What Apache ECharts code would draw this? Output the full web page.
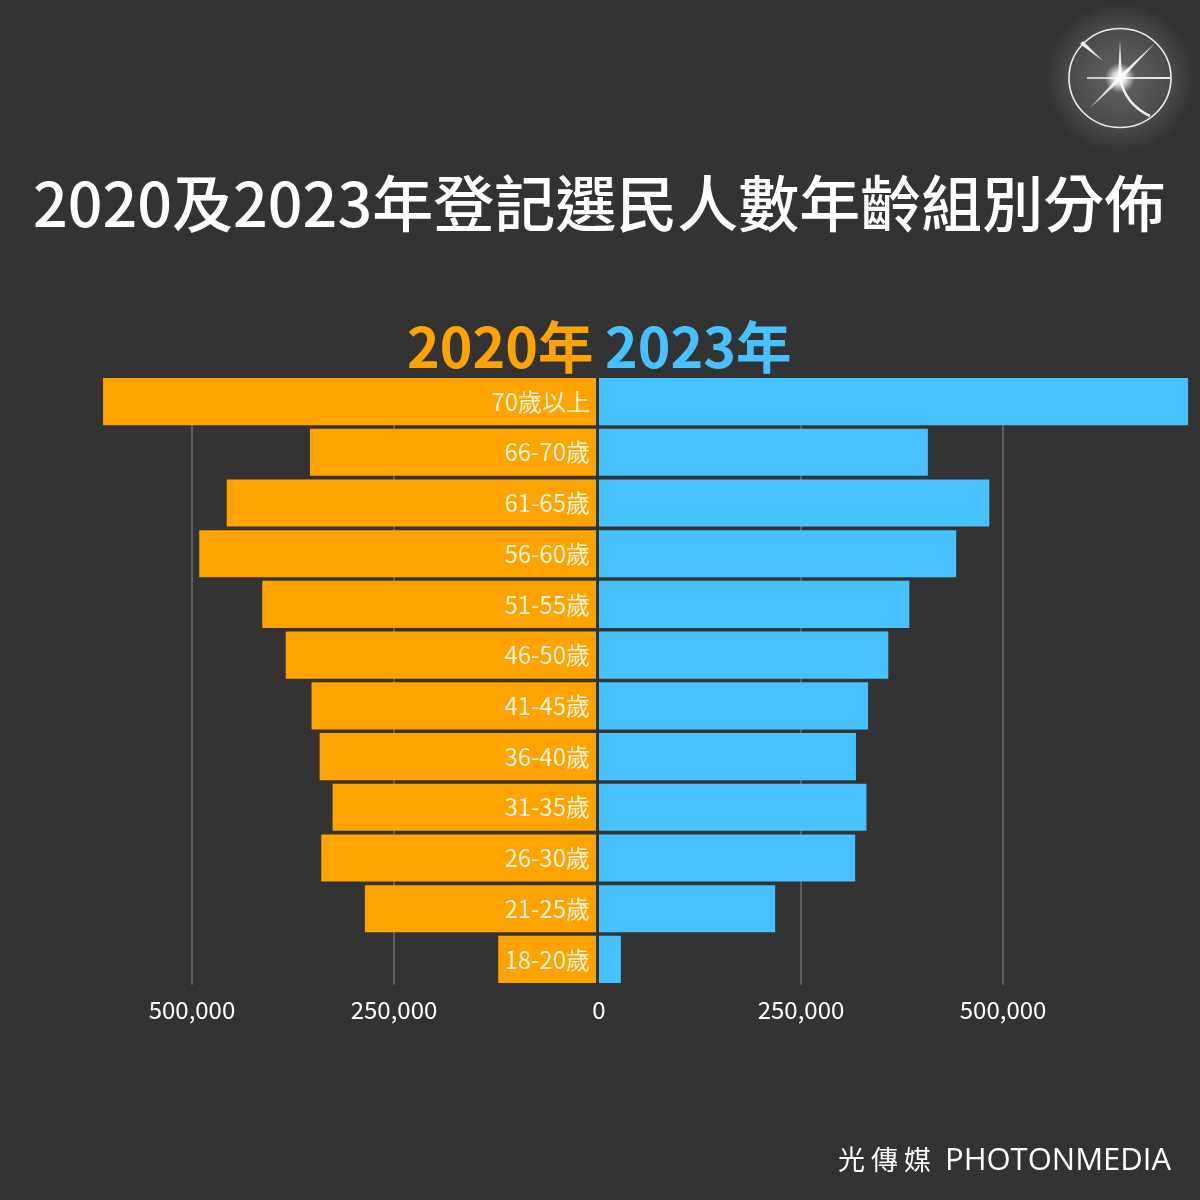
<!DOCTYPE html>
<html>
<head>
<meta charset="utf-8">
<style>
html,body{margin:0;padding:0;background:#333;}
#chart{width:1200px;height:1200px;}
</style>
<script src="https://cdn.jsdelivr.net/npm/echarts@6/dist/echarts.min.js"></script>
</head>
<body>
<div id="chart"></div>
<script>
var ageGroups = ['70歲以上','66-70歲','61-65歲','56-60歲','51-55歲','46-50歲','41-45歲','36-40歲','31-35歲','26-30歲','21-25歲','18-20歲'];
var voters2020 = [610000,354000,457000,491000,413000,384000,352000,342000,326000,340000,286000,121000];
var voters2023 = [729000,407000,483000,442000,384000,358000,333000,318000,331000,317000,218000,27000];
var tickStep = 250000;

var font = '"Noto Sans CJK TC","Noto Sans",sans-serif';
var orange = '#FFA300';
var blue = '#47C1FF';

function fmt(v){
    return echarts.format.addCommas(v);
}

var myChart = echarts.init(document.getElementById('chart'));

function valueAxis(idx, max, inverse, hideZero){
    return {
        type:'value', gridIndex:idx, min:0, max:max, interval:tickStep, inverse:inverse,
        axisLine:{show:false}, axisTick:{show:false},
        splitLine:{show:true, showMinLine:false, showMaxLine:false, lineStyle:{color:'#5e5e5e',width:2}},
        axisLabel:{
            color:'#fff', fontFamily:font, fontSize:24, margin:13, showMaxLabel:false,
            formatter:function(v){ return (hideZero && v===0) ? '' : fmt(v); }
        }
    };
}
function catAxis(idx){
    return {type:'category', gridIndex:idx, data:ageGroups, inverse:true, show:false};
}

var option = {
    backgroundColor:'#333',
    animation:false,
    title:[
        {text:'2020及2023年登記選民人數年齡組別分佈', left:28, top:168,
         textStyle:{color:'#fff',fontFamily:font,fontSize:61,fontWeight:500}},
        {text:'2020年', left:402, top:314, textStyle:{color:orange,fontFamily:font,fontSize:55.5,fontWeight:700}},
        {text:'2023年', left:600, top:314, textStyle:{color:blue,fontFamily:font,fontSize:55.5,fontWeight:700}},
        {text:'光 傳 媒', left:833, top:1141, textStyle:{color:'#fff',fontFamily:font,fontSize:27,fontWeight:400}},
        {text:'PHOTONMEDIA', left:940, top:1141, textStyle:{color:'#fff',fontFamily:'"Open Sans",Roboto,sans-serif',fontSize:31,fontWeight:400}}
    ],
    grid:[
        {left:95, width:501, top:376.2, height:608.6},
        {left:599, width:598, top:376.2, height:608.6}
    ],
    xAxis:[valueAxis(0,620000,true,true), valueAxis(1,740000,false,false)],
    yAxis:[catAxis(0), catAxis(1)],
    series:[
        {name:'2020年', type:'bar', xAxisIndex:0, yAxisIndex:0, data:voters2020, barCategoryGap:'7%',
         itemStyle:{color:orange},
         label:{show:true, position:'insideRight', distance:6, color:'#FFF4DC', fontFamily:font, fontSize:24,
                formatter:function(p){ return p.name; }}},
        {name:'2023年', type:'bar', xAxisIndex:1, yAxisIndex:1, data:voters2023, barCategoryGap:'7%',
         itemStyle:{color:blue}}
    ],
    graphic:[
    // 蓋住格線露出第一條長條上方的部分
    {type:'rect', z:1, silent:true, left:95, top:374, shape:{width:1102,height:4}, style:{fill:'#333'}},
    {
        type:'group', left:1045, top:3, silent:true,
        children:[
            {type:'circle', shape:{cx:75,cy:75,r:75},
             style:{fill:new echarts.graphic.RadialGradient(0.5,0.5,0.5,[
                {offset:0,color:'rgba(255,255,255,0.24)'},
                {offset:0.65,color:'rgba(255,255,255,0.12)'},
                {offset:1,color:'rgba(255,255,255,0)'}])}},
            {type:'ellipse', shape:{cx:75,cy:75,rx:51,ry:49.5}, style:{fill:'none',stroke:'#eee',lineWidth:1.6}},
            // 光芒
            {type:'polygon', shape:{points:[[42,74.3],[125,74],[125,76],[42,75.7]]}, style:{fill:'#eee'}},
            {type:'polygon', shape:{points:[[75,37],[73,75],[77,75]]}, style:{fill:'#eee'}},
            {type:'polygon', shape:{points:[[110,40],[73.5,73.5],[76.5,76.5]]}, style:{fill:'#eee'}},
            {type:'polygon', shape:{points:[[45,105],[73.5,73.5],[76.5,76.5]]}, style:{fill:'#ddd'}},
            {type:'polygon', shape:{points:[[38,38],[35,41],[58,58]]}, style:{fill:'#eee'}},
            {type:'bezierCurve', shape:{x1:75,y1:75,cpx1:79,cpy1:95,cpx2:90,cpy2:106,x2:105,y2:113},
             style:{fill:'none',stroke:'#eee',lineWidth:2.5}},
            {type:'circle', shape:{cx:75,cy:75,r:15},
             style:{fill:new echarts.graphic.RadialGradient(0.5,0.5,0.5,[
                {offset:0,color:'rgba(255,255,255,1)'},
                {offset:0.4,color:'rgba(255,255,255,0.8)'},
                {offset:1,color:'rgba(255,255,255,0)'}])}}
        ]
    }]
};
myChart.setOption(option);
</script>
</body>
</html>
